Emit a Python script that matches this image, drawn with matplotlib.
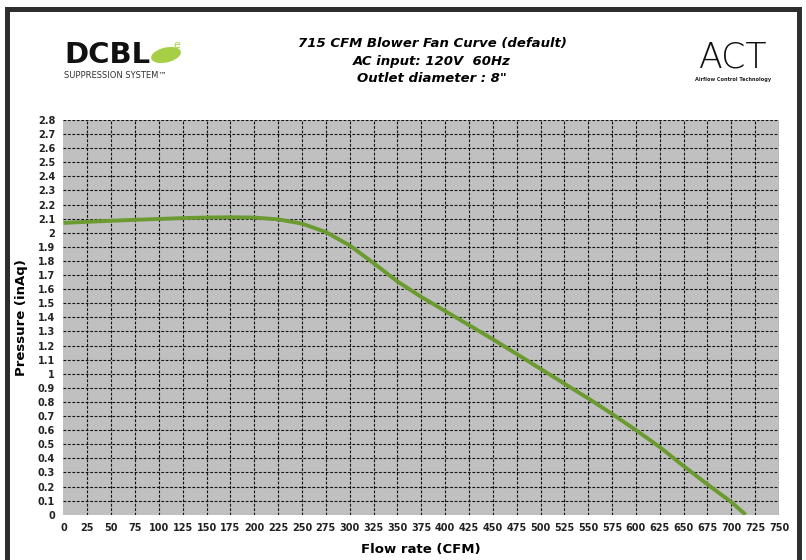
import numpy as np
import matplotlib.pyplot as plt
from matplotlib.patches import Rectangle, Ellipse

# fan curve, read at 25 CFM steps
flow_cfm = [0, 25, 50, 75, 100, 125, 150, 175, 200, 225, 250, 275, 300, 325,
            350, 375, 400, 425, 450, 475, 500, 525, 550, 575, 600, 625, 650,
            675, 700, 715]
pressure_inaq = [2.07, 2.078, 2.085, 2.092, 2.098, 2.104, 2.108, 2.11, 2.108,
                 2.095, 2.065, 2.005, 1.91, 1.785, 1.655, 1.545, 1.445, 1.345,
                 1.245, 1.14, 1.035, 0.93, 0.825, 0.715, 0.6, 0.48, 0.345,
                 0.215, 0.09, 0.0]

x_ticks = np.arange(0, 751, 25)
y_ticks = np.round(np.arange(0, 2.81, 0.1), 1)
y_labels = [f'{v:g}' for v in y_ticks]

title_lines = ['715 CFM Blower Fan Curve (default)', 'AC input: 120V  60Hz',
               'Outlet diameter : 8"']

fig = plt.figure(figsize=(8.06, 5.6), dpi=100)
fig.patch.set_facecolor('white')

ax = fig.add_axes([63.5 / 806, 45.3 / 560, 715.5 / 806, 394.7 / 560])
ax.set_facecolor('#c0c0c0')
ax.plot(flow_cfm, pressure_inaq, color='#6b9a30', lw=2.8,
        solid_joinstyle='round', solid_capstyle='butt', zorder=3)
ax.set_xlim(0, 750)
ax.set_ylim(0, 2.8)
ax.set_xticks(x_ticks)
ax.set_yticks(y_ticks)
ax.set_yticklabels(y_labels)
ax.tick_params(length=0, labelsize=7, pad=6)
for lab in ax.get_xticklabels() + ax.get_yticklabels():
    lab.set_fontweight('bold')
    lab.set_color('#222222')
for s in ax.spines.values():
    s.set_visible(False)
ax.grid(True, color='#111111', linestyle=(0, (2.5, 1.5)), linewidth=0.8)
ax.set_axisbelow(True)
ax.xaxis.get_gridlines()[0].set_visible(False)
ax.yaxis.get_gridlines()[0].set_visible(False)

ax.set_xlabel('Flow rate (CFM)', fontsize=9.5, fontweight='bold', labelpad=7)
ax.set_ylabel('Pressure (inAq)', fontsize=9.5, fontweight='bold', labelpad=7)

# header
for i, line in enumerate(title_lines):
    fig.text(432 / 806, 1 - (44 + 17 * i) / 560, line, ha='center', va='center',
             fontsize=9.5, fontweight='bold', style='italic')

# DCBL logo
fig.text(64 / 806, 1 - 55 / 560, 'DCBL', fontsize=21, fontweight='bold',
         ha='left', va='center', color='#111111')
fig.patches.append(Ellipse((166 / 806, 1 - 55 / 560), 30 / 806, 13 / 560,
                           angle=25, transform=fig.transFigure,
                           color='#a7cf45', zorder=2))
fig.text(177 / 806, 1 - 45 / 560, 'e', fontsize=8, color='#a7cf45',
         ha='center', va='center')
fig.text(64 / 806, 1 - 76 / 560, 'SUPPRESSION SYSTEM\u2122', fontsize=6,
         ha='left', va='center', color='#333333')

# ACT logo
fig.text(733 / 806, 1 - 68 / 560, 'ACT', fontsize=25, fontweight='light',
         ha='center', va='baseline', color='#111111')
fig.text(733 / 806, 1 - 79.5 / 560, 'Airflow Control Technology', fontsize=3.6,
         fontweight='bold', ha='center', va='center', color='#222222')

# outer frame
fig.patches.append(Rectangle((7.5 / 806, -0.1), 791 / 806, 1.1 - 8.5 / 560,
                             transform=fig.transFigure, fill=False,
                             edgecolor='#2e2e2e', linewidth=3.6))

fig.savefig('out.png', dpi=100)
